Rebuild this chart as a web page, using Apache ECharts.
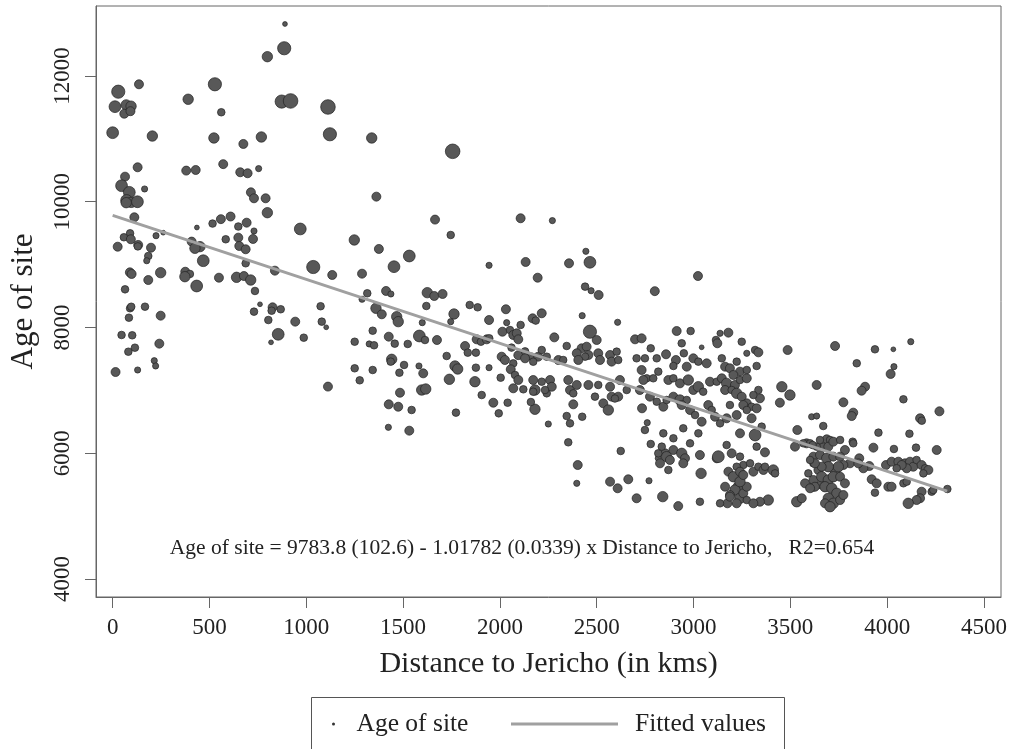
<!DOCTYPE html>
<html>
<head>
<meta charset="utf-8">
<script src="https://cdn.jsdelivr.net/npm/echarts@6/dist/echarts.min.js"></script>
<style>html,body{margin:0;padding:0;background:#fff}#chart{width:1011px;height:749px}</style>
</head>
<body>
<div id="chart"></div>
<script>
// [distance to Jericho (km), age of site, marker weight]
const sitesWest = [
[890,12827,1],[886,12441,4],[799,12307,3],[29,11750,4],[136,11868,2.5],[12,11512,3.5],
[70,11540,3],[95,11520,3],[60,11400,2.5],[92,11440,2.5],[390,11630,3],[528,11868,4],[561,11423,2],
[0,11098,3.5],[205,11045,3],[523,11014,3],[675,10919,2.5],[768,11030,3],[873,11593,4],[919,11603,4.5],
[129,10548,2.5],[64,10399,2.5],[46,10255,3.5],[86,10150,3.5],[72,10020,3.5],[96,9990,3],[128,10000,3.5],[70,9985,3],
[165,10203,1.5],[112,9753,2.5],[380,10495,2.5],[429,10505,2.5],[571,10598,2.5],[659,10469,2.5],[697,10453,2.5],
[754,10527,1.5],[714,10150,2.5],[730,10055,2.5],[790,10055,2.5],[799,9826,3],[969,9567,3.5],
[90,9498,2],[58,9435,2],[94,9403,2.5],[132,9313,2.5],[130,9290,2],[26,9285,2.5],
[224,9460,1.5],[261,9508,1],[198,9269,2.5],[184,9137,2],[176,9062,1.5],
[89,8877,2.5],[98,8851,2.5],[248,8872,3],[184,8755,2.5],[64,8607,2],
[375,8887,2.5],[399,8851,2],[373,8808,3],[434,8660,3.5],[408,9366,2.5],[451,9286,3],[425,9260,3],
[435,9590,1],[516,9653,2],[559,9723,2.5],[609,9765,2.5],[468,9062,3.5],[584,9403,2],
[649,9606,2],[692,9667,2.5],[730,9535,1.5],[649,9429,2.5],[654,9296,2.5],[687,9244,2.5],[725,9408,2.5],
[687,9021,2],[549,8792,2.5],[640,8798,3],[678,8819,2.5],[713,8755,3],[735,8581,2],[838,8904,2.5],
[90,8306,2],[96,8330,2],[167,8331,2],[84,8156,2],[248,8188,2.5],[46,7881,2],[101,7876,2],[241,7743,2.5],
[115,7679,2],[81,7615,2],[215,7472,1.5],[222,7388,1.5],[15,7292,2.5],[129,7324,1.5],
[761,8369,1],[730,8252,2],[826,8321,2.5],[821,8267,2],[868,8290,2],[804,8119,2],[943,8093,2.5],
[855,7892,3.5],[818,7764,1],[987,7838,2]
];
const sitesCentral = [
[1122,11073,4],[1112,11507,4.5],[1338,11014,3],[1756,10802,4.5],[1362,10081,2.5],[1665,9716,2.5],
[1746,9471,2],[2107,9737,2.5],[2271,9700,1.5],[1248,9392,3],[1375,9249,2.5],[1532,9137,3.5],[1453,8967,3.5],
[1944,8989,1.5],[2133,9042,2.5],[2195,8792,2.5],[1036,8962,4],[1134,8835,2.5],[1288,8856,2.5],
[1315,8544,2],[1412,8581,2.5],[1437,8533,1.5],[1625,8554,3],[1661,8501,2.5],[1704,8533,2.5],
[2444,9212,1.5],[2357,9021,2.5],[2465,9037,3.5],[2440,8650,2],[2471,8585,1.5],[2510,8517,2.5],
[1074,8338,2],[1080,8093,2],[1103,8003,1],[1112,7060,2.5],[1250,7774,2],[1325,7738,1.5],[1350,7717,2],
[1343,7949,2],[1250,7351,2],[1276,7160,2],[1343,7324,2],[1288,8449,1.5],[1360,8306,3],[1390,8210,2.5],
[1467,8172,3],[1475,8093,3],[1426,7854,2.5],[1457,7743,2],[1524,7738,2],[1441,7494,3],[1436,7457,2],
[1505,7404,2],[1481,7281,2],[1582,7388,1.5],[1604,7271,2.5],[1596,7006,3],[1617,7022,3],[1484,6963,2.5],
[1426,6778,2.5],[1475,6740,2.5],[1544,6688,2],[1424,6413,1.5],[1532,6359,2.5],
[1584,7865,3.5],[1613,7801,2],[1675,7801,2.5],[1599,8077,1.5],[1620,8342,2],[1763,8215,3],[1746,8093,1.5],
[1844,8358,2],[1885,8321,2],[1944,8119,2.5],[2031,8290,2.5],[2035,8077,1.5],
[1725,7547,2],[1768,7388,3],[1782,7340,3],[1820,7706,2.5],[1834,7600,2],[1739,7176,3],
[1876,7600,2],[1876,7361,2],[1871,7138,3],[1906,6926,2],[1773,6646,2],[1944,7361,1.5],
[1966,6804,2.5],[1994,6635,2],[2040,6804,2],[2004,7202,2],
[2013,7933,2.5],[2052,7960,2],[2069,7881,2.5],[2087,7908,2.5],[2107,8040,2],[2095,7812,2.5],
[1880,7812,2.5],[1902,7774,2],[1932,7812,2.5],[1945,7828,2],
[2009,7536,2.5],[2026,7483,2.5],[2069,7430,2],[2056,7335,2.5],[2078,7245,2],[2095,7165,2.5],[2069,7033,2.5],
[2121,7017,2],[2172,7165,2.5],[2181,7006,3],[2216,7138,2],[2242,6953,2],
[2164,7536,2],[2198,7536,2.5],[2242,7536,2],[2302,7483,2.5],[2327,7483,2],
[2259,7165,2.5],[2268,7058,2.5],[2233,7006,2],[2172,6979,2],
[2353,7165,2.5],[2362,7006,2.5],[2397,7086,2.5],[2379,6953,2],
[2457,7086,2.5],[2508,7086,2],[2569,7058,2.5],[2620,7165,2.5],[2655,7006,2],[2577,6900,2.5],[2611,6900,2.5],
[2491,6900,2],[2534,6794,2.5],[2560,6688,3],[2594,6870,2],
[2422,7669,2.5],[2448,7695,2.5],[2457,7563,2.5],[2440,7536,2],[2397,7590,2.5],[2405,7483,2.5],
[2508,7590,2.5],[2517,7483,2.5],[2569,7563,2.5],[2603,7616,2],[2577,7457,2.5],[2611,7483,2],
[2095,7560,2.5],[2130,7620,2],[2060,7680,2],[2130,7510,2.5],[2172,7456,2],[2216,7642,2],
[2216,8226,2.5],[2169,8146,2.5],[2185,8110,2],[2425,8188,1.5],[2608,8083,1.5],[2465,7933,4],[2500,7801,2.5],
[2281,7843,2.5],[2345,7706,2],[2181,6700,3],[2160,6815,2],[2379,6778,2.5],[2345,6592,2],[2362,6476,2],
[2425,6581,2],[2250,6465,1.5],[2353,6174,2],[2402,5813,2.5],[2397,5522,1.5],[2569,5548,2.5],[2608,5443,2.5],
[2624,6036,2],[2663,5586,2.5]
];
const sitesEast = [
[2800,8578,2.5],[3023,8819,2.5],[2698,7812,2.5],[2732,7828,2.5],[2779,7669,2],
[2706,7510,2],[2749,7510,2],[2810,7510,2],[2732,7324,2.5],[2758,7192,2],[2741,7165,2.5],[2792,7192,2],[2818,7298,2],
[2706,5284,2.5],[2770,5563,1.5],[2734,6715,2.5],[2761,6486,1.5],[2749,6370,2],[2779,6147,2],[2818,5920,1.5],
[2913,7944,2.5],[2985,7944,2],[3137,7908,1.5],[3180,7918,2.5],[3116,7801,2],[3123,7749,2.5],[2939,7749,2],
[3042,7685,1],[3249,7774,2],[3318,7642,2],[3335,7605,2.5],[3275,7590,1.5],[3486,7642,2.5],
[2858,7574,2.5],[2909,7483,2.5],[2950,7590,2],[2999,7510,2.5],[3025,7457,2],[3068,7430,2.5],[2965,7377,2.5],[2896,7388,2],
[3146,7510,2],[3163,7377,2.5],[3188,7351,2.5],[3223,7457,2],[3240,7298,2.5],[3275,7324,2],[3206,7245,2.5],[3326,7388,2],
[2870,7165,2.5],[2896,7192,2],[2930,7112,2.5],[2973,7165,3],[2999,7006,2.5],[3025,7059,3],[3050,6979,2],
[3085,7138,2.5],[3120,7138,2],[3146,7192,2.5],[3171,7112,3],[3214,7086,2.5],[3240,7165,2],[3275,7192,2.5],
[3163,7006,2.5],[3197,7006,2],[3223,6953,3],[3249,6900,2.5],[3275,6794,2.5],[3300,6740,2],[3326,6715,2.5],
[3335,7006,2],[3343,6874,2.5],[3309,6926,2],
[2723,7006,2.5],[2775,6900,2.5],[2810,6820,2],[2844,6740,2.5],[2861,6847,2],[2896,6900,2.5],[2930,6847,3],
[2965,6847,2],[2939,6767,2.5],[2982,6688,2.5],[3008,6608,2],[3042,6502,2.5],[3076,6767,2.5],[3094,6688,2],
[3111,6581,2.5],[3137,6476,2],[3171,6556,2.5],[3188,6767,2],[3223,6608,2.5],[3257,6767,2.5],[3275,6688,2],
[3300,6556,2.5],[3352,6423,2],
[3456,7058,3],[3498,6926,3],[3446,6804,2.5],[3636,7086,2.5],[3610,6581,1.5],[3636,6592,1.5],[3536,6370,2.5],
[3584,6158,2.5],[3524,6105,2.5],[3318,6290,3.5],[3240,6317,2.5],
[2844,6317,2],[2853,5999,2.5],[2861,5946,3],[2878,5893,2.5],[2827,5840,2.5],[2870,5734,2],[2896,6052,2.5],
[2818,5999,2],[2836,6105,2],[2896,6238,2],[2947,6397,2],[2982,6158,2],[2939,5999,3],[2956,5920,2.5],
[2947,5840,2.5],[3025,6317,2],[3033,5972,2.5],
[3120,5920,2.5],[3128,5946,3.5],[3171,6131,2],[3197,5999,2.5],[3240,5946,2],[3257,5813,2],[3292,5840,2],
[3369,6015,2.5],[3326,6105,2],
[3180,5707,2.5],[3223,5786,2],[3206,5627,3],[3240,5707,2.5],[3231,5468,3],[3214,5415,3],[3188,5336,2.5],
[3240,5284,3],[3223,5204,2.5],[3257,5363,2.5],[3275,5468,2.5],[3275,5256,2],[3240,5548,3],[3257,5654,2.5],
[3163,5468,2.5],[3175,5204,2.5],
[3309,5707,2.5],[3335,5786,2],[3361,5734,2.5],[3412,5734,3],[3421,5680,2],[3386,5256,3],[3343,5229,2.5],
[3309,5204,2.5],[3369,5786,2],
[3039,5680,3],[2841,5310,3],[2921,5160,2.5],[3033,5229,2],[3137,5204,2],[3188,5310,2.5],
[3533,5229,3],[3559,5284,2.5],[3576,5522,2.5],[3619,5468,2.5],[3653,5495,2],[3593,5680,2],[3619,5840,2],[3645,5734,2.5],
[3731,7706,2.5],[3937,7653,2],[4032,7653,1],[4122,7774,1.5],[3843,7431,2],[4035,7377,1.5],[4018,7261,2.5],
[3886,7058,2.5],[3868,6995,2.5],[3774,6810,2.5],[3825,6646,2.5],[3817,6592,2.5],[4084,6858,2],[4170,6556,2.5],
[4179,6518,2],[4270,6667,2.5],[3955,6328,2],[4115,6311,2],[3670,6433,2],[3929,6089,2.5],[4035,6068,2],
[4149,6089,2],[4256,6052,2.5],[4311,5431,2],
[3822,6184,2],[3782,6052,2.5],[3856,5920,2.5],[3908,5797,2.5],[3877,5761,2.5],[3808,5840,2.5],[3851,5840,2.5],
[3688,6222,2.5],[3705,6211,2],[3670,6094,2.5],[3696,6105,2.5],[3636,6105,2],[3602,6158,2],[3619,5946,2.5],
[3653,5972,2.5],[3688,5920,3],[3722,5946,2.5],[3757,5946,2.5],[3774,5813,2.5],[3731,5734,3],[3748,5786,3],
[3696,5786,3],[3662,5786,2.5],[3627,5840,2.5],[3602,5893,2],
[3619,5575,2.5],[3662,5627,3],[3696,5575,3],[3722,5627,3],[3757,5627,2.5],[3782,5522,2.5],[3679,5468,3],
[3714,5443,3],[3740,5363,3],[3696,5284,3],[3722,5204,3],[3757,5256,2.5],[3774,5336,2.5],[3679,5204,2.5],
[3705,5150,3],[3627,5468,2.5],[3602,5443,2.5],
[3920,5586,2.5],[3946,5522,2.5],[3937,5373,2],[4006,5468,2.5],[4023,5468,2.5],[4084,5522,2],[4101,5548,2],
[3994,5813,2.5],[4023,5866,2.5],[4058,5866,2.5],[4092,5840,2.5],[4118,5866,2.5],[4135,5786,2.5],[4152,5893,2],
[4178,5813,2.5],[4196,5761,2],[4213,5734,2.5],[4187,5680,2],[4101,5761,2.5],[4075,5813,2.5],[4049,5761,2],
[4178,5389,2.5],[4230,5389,2],[4170,5284,2.5],[4152,5256,2.5],[4109,5204,3],[4238,5415,2],
[3567,6158,2],[3615,6131,2],[3653,6211,2],[3722,6184,2.5],[3757,6211,2],[3825,6158,2]
];
// Fitted values: Age = 9783.8 - 1.01782 x Distance, read at the line's ends
const fittedValues = [[0, 9784], [4310, 5397]];
const xTicks = [0, 500, 1000, 1500, 2000, 2500, 3000, 3500, 4000, 4500];
const yTicks = [4000, 6000, 8000, 10000, 12000];
const fitNote = 'Age of site = 9783.8 (102.6) - 1.01782 (0.0339) x Distance to Jericho,   R2=0.654';

const FONT = 'Liberation Serif';
const TXT = '#222';
const plain = function (v) { return String(v); };
const chart = echarts.init(document.getElementById('chart'), null, {renderer: 'canvas'});
chart.setOption({
  backgroundColor: '#fff',
  animation: false,
  grid: {left: 96, right: 10, top: 6, bottom: 152, show: true, borderColor: '#666', borderWidth: 1},
  xAxis: {
    type: 'value', min: -86, max: 4588,
    name: 'Distance to Jericho (in kms)', nameLocation: 'middle', nameGap: 52,
    nameTextStyle: {fontFamily: FONT, fontSize: 30, color: TXT},
    axisLine: {show: true, onZero: false, lineStyle: {color: '#666', width: 1}},
    axisTick: {show: true, length: 11, customValues: xTicks, lineStyle: {color: '#666'}},
    axisLabel: {customValues: xTicks, formatter: plain, margin: 19, fontFamily: FONT, fontSize: 23, color: TXT},
    splitLine: {show: false}
  },
  yAxis: {
    type: 'value', min: 3714, max: 13113,
    name: 'Age of site', nameLocation: 'middle', nameGap: 57,
    nameTextStyle: {fontFamily: FONT, fontSize: 31, color: TXT},
    axisLine: {show: true, onZero: false, lineStyle: {color: '#666', width: 1}},
    axisTick: {show: true, length: 11, customValues: yTicks, lineStyle: {color: '#666'}},
    axisLabel: {customValues: yTicks, formatter: plain, rotate: 90, margin: 22, fontFamily: FONT, fontSize: 23, color: TXT},
    splitLine: {show: false}
  },
  legend: [
    {data: ['Age of site'], left: 332, top: 711, padding: 0, itemWidth: 32, itemHeight: 3,
     selectedMode: false, itemStyle: {color: '#333', borderWidth: 0},
     textStyle: {fontFamily: FONT, fontSize: 25.5, color: TXT, padding: [0, 0, 0, 2]}},
    {data: [{name: 'Fitted values', icon: 'rect'}], left: 511, top: 711, padding: 0, itemWidth: 107, itemHeight: 3,
     selectedMode: false, itemStyle: {color: '#a0a0a0', borderWidth: 0},
     textStyle: {fontFamily: FONT, fontSize: 25.5, color: TXT, padding: [0, 0, 0, 12]}}
  ],
  graphic: [
    {type: 'rect', shape: {x: 311.5, y: 697.5, width: 473, height: 80}, style: {fill: 'none', stroke: '#555', lineWidth: 1}, silent: true},
    {type: 'text', x: 522, y: 548, style: {text: fitNote, fontFamily: FONT, fontSize: 21.5, fill: TXT, textAlign: 'center', textVerticalAlign: 'middle'}, silent: true}
  ],
  series: [
    {
      name: 'Age of site', type: 'scatter', z: 2,
      data: sitesWest.concat(sitesCentral, sitesEast),
      symbol: 'circle',
      symbolSize: function (v) { return 2 + 2.8 * v[2]; },
      itemStyle: {color: '#585858', borderColor: '#222', borderWidth: 0.7, opacity: 1}
    },
    {
      name: 'Fitted values', type: 'line', z: 3,
      data: fittedValues, showSymbol: false, symbol: 'none',
      lineStyle: {color: '#a0a0a0', width: 3}
    }
  ]
});
</script>
</body>
</html>
